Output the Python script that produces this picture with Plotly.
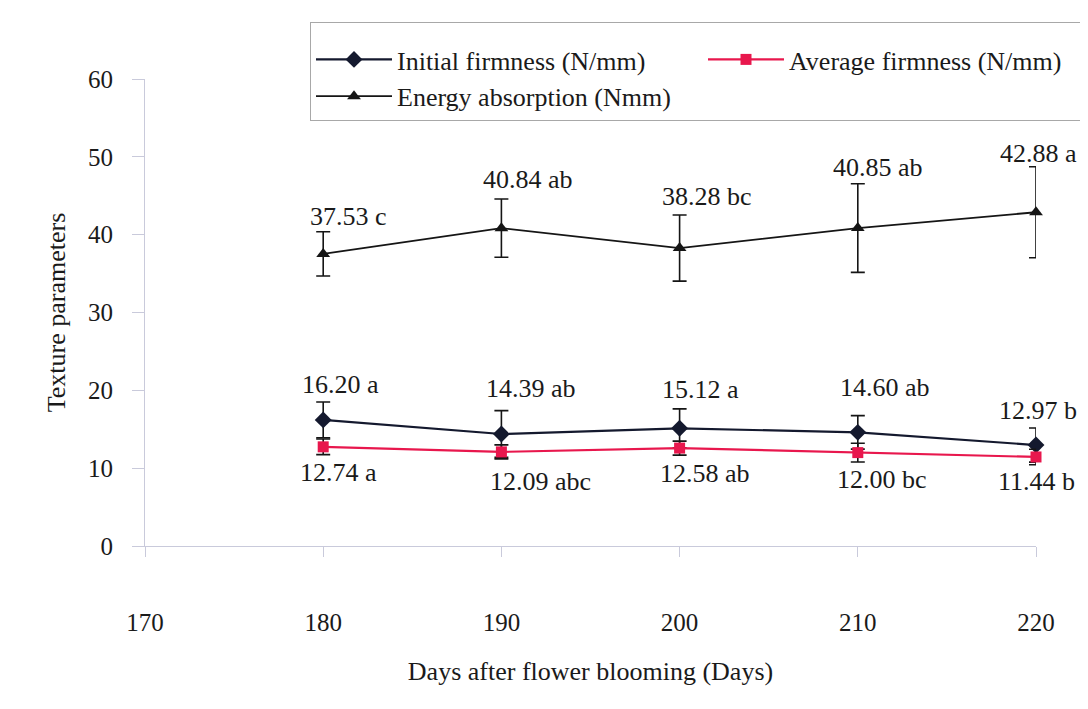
import plotly.graph_objects as go

days = [180, 190, 200, 210, 220]

initial_firmness = [16.20, 14.39, 15.12, 14.60, 12.97]
initial_err = [2.3, 3.0, 2.5, 2.15, 2.2]
initial_labels = ["16.20 a", "14.39 ab", "15.12 a", "14.60 ab", "12.97 b"]

average_firmness = [12.74, 12.09, 12.58, 12.00, 11.44]
average_err = [1.0, 0.9, 0.9, 1.2, 1.0]
average_labels = ["12.74 a", "12.09 abc", "12.58 ab", "12.00 bc", "11.44 b"]

energy_absorption = [37.53, 40.84, 38.28, 40.85, 42.88]
energy_err = [2.85, 3.75, 4.25, 5.7, 5.85]
energy_labels = ["37.53 c", "40.84 ab", "38.28 bc", "40.85 ab", "42.88 a"]

x_ticks = [170, 180, 190, 200, 210, 220]
y_ticks = [0, 10, 20, 30, 40, 50, 60]

# label pixel offsets (style)
initial_dx = [17, 30, 21, 27, 2]
initial_dy = [35, 46, 39, 45, 35]
average_dx = [15, 39, 25, 24, 0]
average_dy = [-26, -30, -25, -27, -25]
energy_dx = [25, 27, 27, 20, 2]
energy_dy = [37, 49, 52, 61, 59]

FONT = "Liberation Serif"
DARK = "#14192e"
BLACK = "#151515"
RED = "#e8174d"
AXIS = "#c9cadb"

fig = go.Figure()

fig.add_trace(go.Scatter(
    x=days, y=initial_firmness, name="Initial firmness (N/mm)",
    mode="lines+markers",
    line=dict(color=DARK, width=2.2),
    marker=dict(symbol="diamond", size=13, color=DARK),
    error_y=dict(type="data", array=initial_err, visible=True,
                 color=BLACK, thickness=1.6, width=7),
    cliponaxis=False,
))
fig.add_trace(go.Scatter(
    x=days, y=average_firmness, name="Average firmness (N/mm)",
    mode="lines+markers",
    line=dict(color=RED, width=2.2),
    marker=dict(symbol="square", size=11, color=RED),
    error_y=dict(type="data", array=average_err, visible=True,
                 color=BLACK, thickness=1.6, width=7),
    cliponaxis=False,
))
fig.add_trace(go.Scatter(
    x=days, y=energy_absorption, name="Energy absorption (Nmm)",
    mode="lines+markers",
    line=dict(color=BLACK, width=1.8),
    marker=dict(symbol="triangle-up", size=12, color=BLACK),
    error_y=dict(type="data", array=energy_err, visible=True,
                 color=BLACK, thickness=1.6, width=7),
    cliponaxis=False,
))

annotations = []
def add_labels(vals, labels, dxs, dys):
    for xv, yv, t, dx, dy in zip(days, vals, labels, dxs, dys):
        annotations.append(dict(
            x=xv, y=yv, xref="x", yref="y", text=t, showarrow=False,
            xanchor="center", yanchor="middle", xshift=dx, yshift=dy,
            font=dict(family=FONT, size=26, color="#1a1a1a"),
        ))

add_labels(energy_absorption, energy_labels, energy_dx, energy_dy)
add_labels(initial_firmness, initial_labels, initial_dx, initial_dy)
add_labels(average_firmness, average_labels, average_dx, average_dy)

# the page adds an 8px body margin on every side, so keep the figure inside the window
W, H = 1072, 693
fig.update_layout(
    width=W, height=H,
    margin=dict(l=137, r=44, t=71, b=155, autoexpand=False),
    paper_bgcolor="white", plot_bgcolor="white",
    font=dict(family=FONT, size=25, color="#1a1a1a"),
    showlegend=True,
    legend=dict(
        orientation="h", xref="container", yref="container",
        x=302 / W, y=1 - 14 / H, xanchor="left", yanchor="top",
        bordercolor="#a8a8a8", borderwidth=1, bgcolor="white",
        entrywidth=301, entrywidthmode="pixels",
        itemwidth=76,
        font=dict(family=FONT, size=26, color="#1a1a1a"),
        title=dict(text=" ", font=dict(size=10), side="top"),
        tracegroupgap=0,
    ),
    annotations=annotations,
    xaxis=dict(
        range=[170, 220], tickmode="array", tickvals=x_ticks,
        ticktext=[str(v) for v in x_ticks],
        showgrid=False, zeroline=False,
        showline=True, linecolor=AXIS, linewidth=1.2,
        ticks="outside", ticklen=10, tickcolor=AXIS,
        ticklabelstandoff=44,
        tickfont=dict(family=FONT, size=25),
        title=dict(text="Days after flower blooming (Days)",
                   font=dict(family=FONT, size=26), standoff=26),
    ),
    yaxis=dict(
        range=[0, 60], tickmode="array", tickvals=y_ticks,
        showgrid=False, zeroline=False,
        showline=True, linecolor=AXIS, linewidth=1.2,
        ticks="outside", ticklen=12, tickcolor=AXIS,
        ticklabelstandoff=14,
        tickfont=dict(family=FONT, size=25),
        title=dict(text="Texture parameters",
                   font=dict(family=FONT, size=26), standoff=14),
    ),
)

fig.write_html("out.html")
